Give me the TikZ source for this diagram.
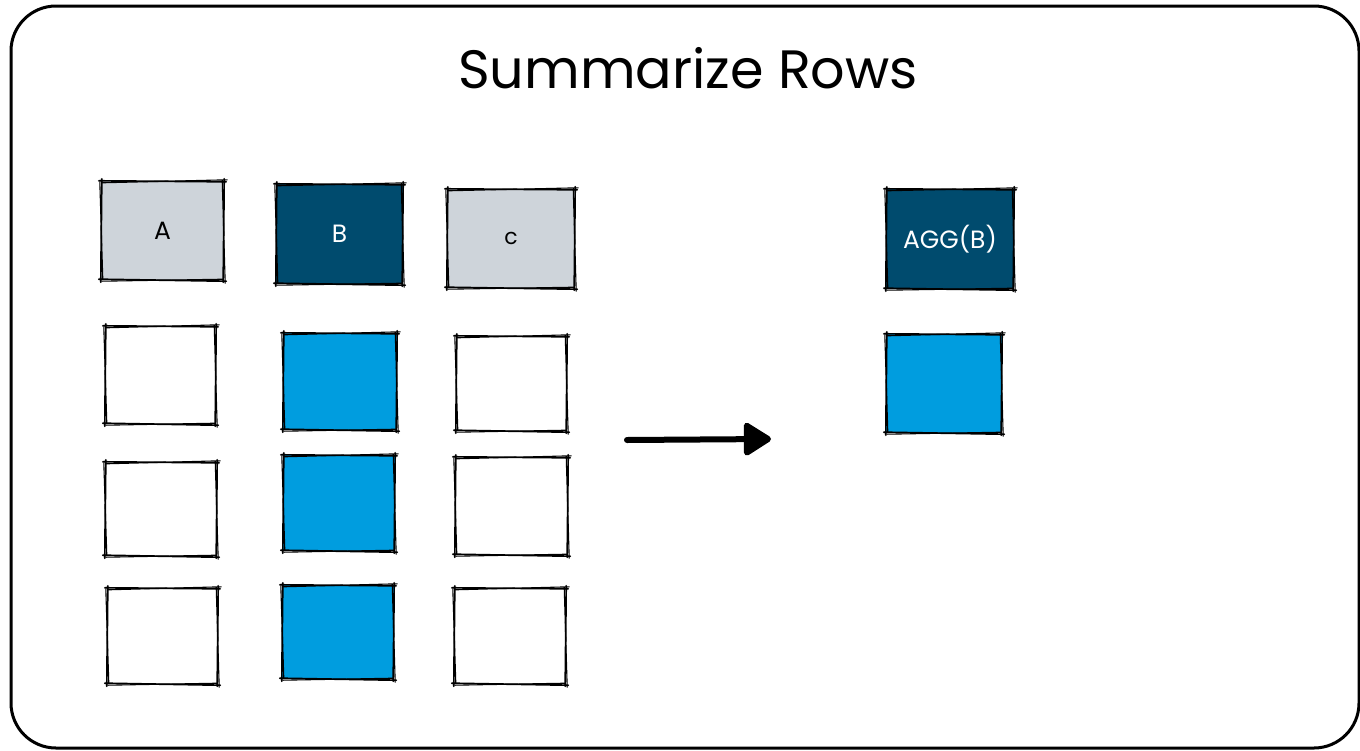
\documentclass[tikz,border=0pt]{standalone}
\usepackage{fontspec}
\setmainfont{Poppins}
\usetikzlibrary{arrows.meta}
\definecolor{headgray}{HTML}{CED4DA}
\definecolor{navy}{HTML}{004B6E}
\definecolor{sky}{HTML}{009DDF}
\tikzset{
  cell/.style={draw=none, inner sep=0pt, font=\fontsize{25}{28}\selectfont},
  sk/.style={line width=1.7pt, line cap=round, line join=round, black},
  skthin/.style={line width=1.1pt, line cap=round, line join=round, black},
  flow/.style={line width=6pt, line cap=round, -{Triangle[length=30pt,width=36pt,round]}},
}
% hand-drawn double outline around a named box
\newcommand\sketchbox[1]{%
  \draw[sk] ([shift={(-2,0)}]#1.north west) -- ([shift={(2,1)}]#1.north east)
            ([shift={(0,-2)}]#1.north east) -- ([shift={(-1,2)}]#1.south east)
            ([shift={(2,1)}]#1.south east) -- ([shift={(-2,-1)}]#1.south west)
            ([shift={(0,2)}]#1.south west) -- ([shift={(1,-2)}]#1.north west);
  \draw[skthin] ([shift={(1,2)}]#1.north west) -- ([shift={(3,-1)}]#1.north east)
            ([shift={(-2,-1)}]#1.north east) -- ([shift={(1,3)}]#1.south east)
            ([shift={(-1,-1)}]#1.south east) -- ([shift={(1,1)}]#1.south west)
            ([shift={(2,-1)}]#1.south west) -- ([shift={(-1,1)}]#1.north west);
}
\begin{document}
\begin{tikzpicture}[x=1pt,y=-1pt]
\useasboundingbox (0,0) rectangle (1360,750);
\fill[white] (0,0) rectangle (1360,750);
% outer frame
\draw[line width=3pt, rounded corners=45pt] (11,6) rectangle (1359,748);

% title
\node (title) at (688,68) {\fontsize{54}{60}\selectfont Summarize Rows};

% header row
\node[cell, fill=headgray, minimum width=123pt, minimum height=99pt] (hA) at (162.5,230.5) {A};
\node[cell, fill=navy, text=white, minimum width=127pt, minimum height=100pt] (hB) at (339.5,234) {B};
\node[cell, fill=headgray, minimum width=128pt, minimum height=99pt] (hC) at (511,238.5) {\fontsize{22}{24}\selectfont c};

% data rows
\node[cell, fill=white, minimum width=111pt, minimum height=98pt] (a1) at (160.5,375) {};
\node[cell, fill=sky,   minimum width=114pt, minimum height=97pt] (b1) at (340,381.5) {};
\node[cell, fill=white, minimum width=111pt, minimum height=95pt] (c1) at (511.5,383.5) {};
\node[cell, fill=white, minimum width=112pt, minimum height=94pt] (a2) at (161,509) {};
\node[cell, fill=sky,   minimum width=112pt, minimum height=96pt] (b2) at (339,503) {};
\node[cell, fill=white, minimum width=113pt, minimum height=98pt] (c2) at (511.5,506) {};
\node[cell, fill=white, minimum width=111pt, minimum height=96pt] (a3) at (162.5,636) {};
\node[cell, fill=sky,   minimum width=112pt, minimum height=94pt] (b3) at (338,632) {};
\node[cell, fill=white, minimum width=112pt, minimum height=96pt] (c3) at (510,636) {};

% result
\node[cell, fill=navy, text=white, minimum width=128pt, minimum height=100pt, font=\fontsize{25}{28}\selectfont] (agg) at (950,239) {AGG(B)};
\node[cell, fill=sky, minimum width=116pt, minimum height=99pt] (res) at (944,383.5) {};

\foreach \b in {hA,hB,hC,a1,b1,c1,a2,b2,c2,a3,b3,c3,agg,res} {\sketchbox{\b}}

% summarise arrow
\coordinate (from) at (627,440);
\coordinate (to) at (771,439);
\draw[flow] (from) -- (to);
\end{tikzpicture}
\end{document}
